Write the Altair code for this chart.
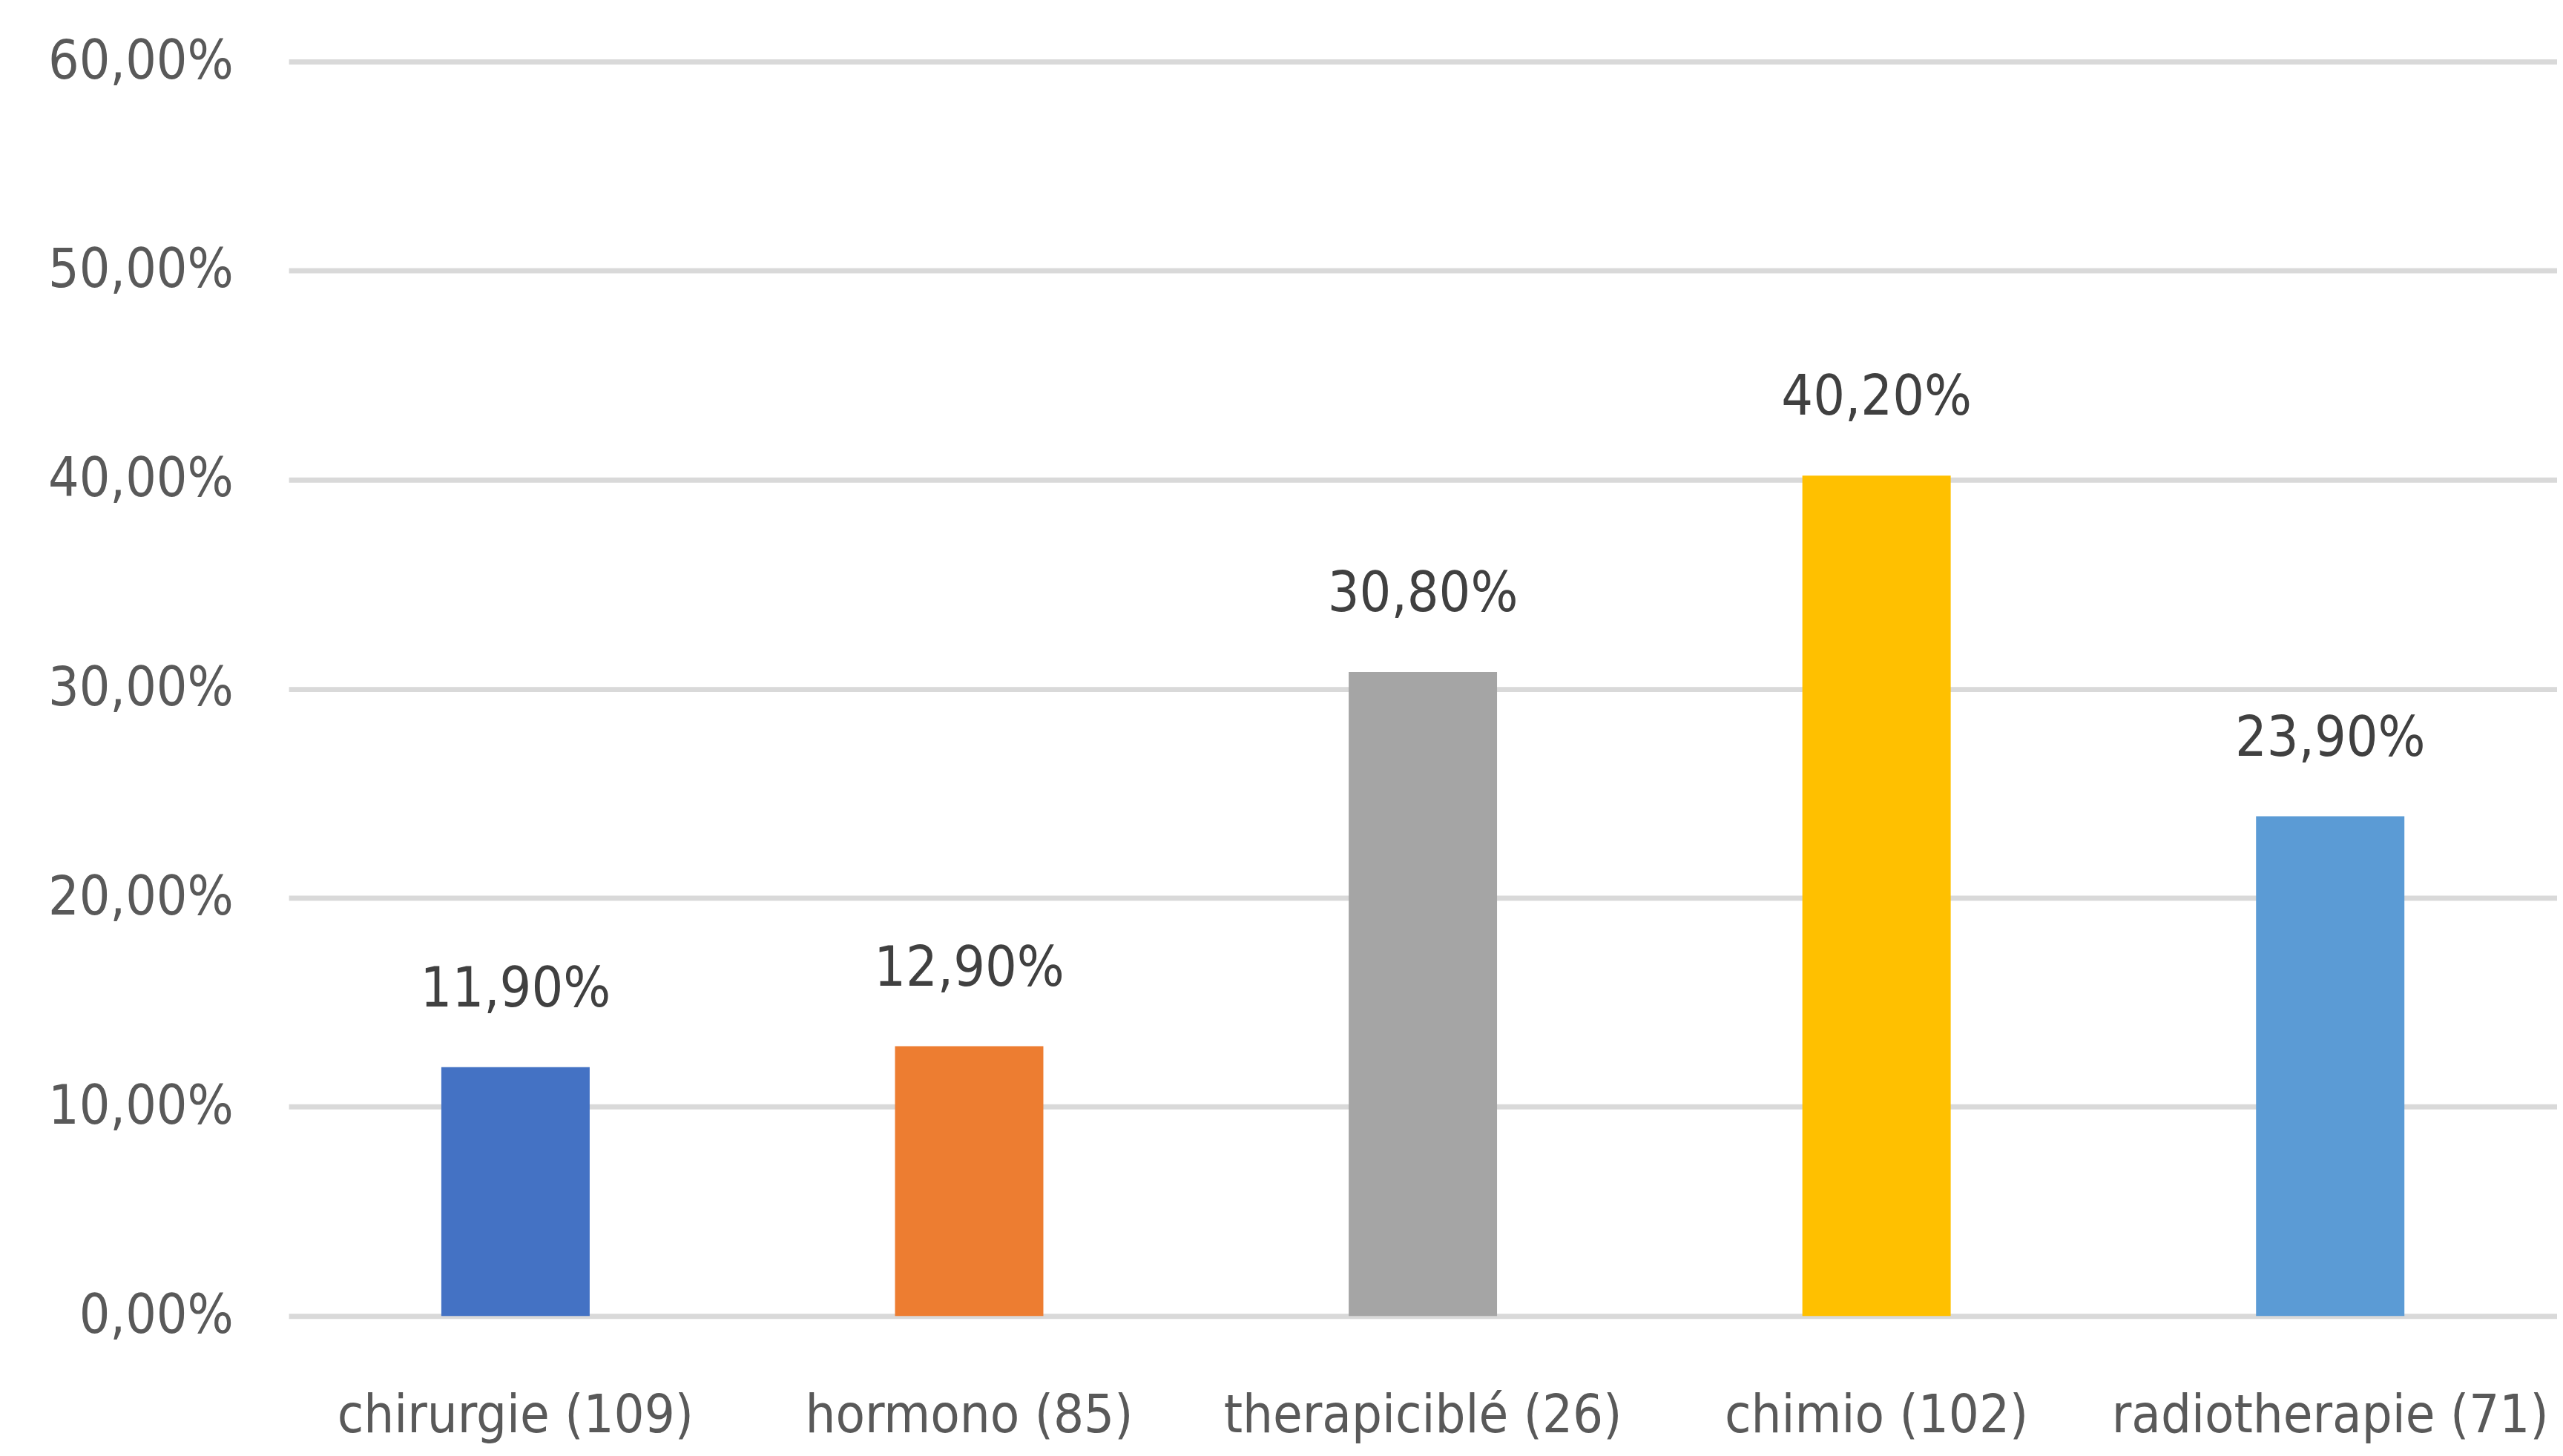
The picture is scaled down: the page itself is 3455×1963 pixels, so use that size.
import altair as alt
import pandas as pd

categories = ["chirurgie (109)", "hormono (85)", "therapiciblé (26)", "chimio (102)", "radiotherapie (71)"]
values = [0.119, 0.129, 0.308, 0.402, 0.239]
colors = ["#4472C4", "#ED7D31", "#A5A5A5", "#FFC000", "#5B9BD5"]
y_ticks = [0.0, 0.1, 0.2, 0.3, 0.4, 0.5, 0.6]

df = pd.DataFrame({"cat": categories, "val": values})
df["label"] = [f"{v*100:.2f}%".replace(".", ",") for v in values]

FONT = "Liberation Sans Narrow, DejaVu Sans Condensed, sans-serif"

x = alt.X("cat:N", sort=categories, title=None,
          scale=alt.Scale(paddingInner=0.673, paddingOuter=0.3365),
          axis=alt.Axis(labelAngle=0, ticks=False, domain=False, grid=False,
                        labelFont=FONT, labelFontSize=72, labelColor="#595959",
                        labelPadding=100, labelLimit=0))
y = alt.Y("val:Q", title=None,
          scale=alt.Scale(domain=[0, 0.6], nice=False),
          axis=alt.Axis(values=y_ticks, ticks=False, domain=False,
                        gridColor="#D9D9D9", gridWidth=7,
                        labelExpr="replace(format(datum.value, '.2%'), '.', ',')",
                        labelFont=FONT, labelFontSize=73, labelColor="#595959",
                        labelPadding=75, labelLimit=0))

bars = alt.Chart(df).mark_bar().encode(
    x=x, y=y,
    color=alt.Color("cat:N", sort=categories,
                    scale=alt.Scale(domain=categories, range=colors), legend=None),
)
text = alt.Chart(df).mark_text(font=FONT, fontSize=75, color="#404040",
                               baseline="alphabetic", dy=-82).encode(
    x=alt.X("cat:N", sort=categories),
    y=alt.Y("val:Q"),
    text="label:N",
)

chart = alt.layer(bars, text).properties(
    width=3065, height=1695,
    padding={"left": 382, "top": 73, "right": 0, "bottom": 185},
    autosize=alt.AutoSizeParams(type="none"),
).configure_view(stroke=None)

chart.save("out.html", embed_options={"renderer": "svg", "actions": False})
